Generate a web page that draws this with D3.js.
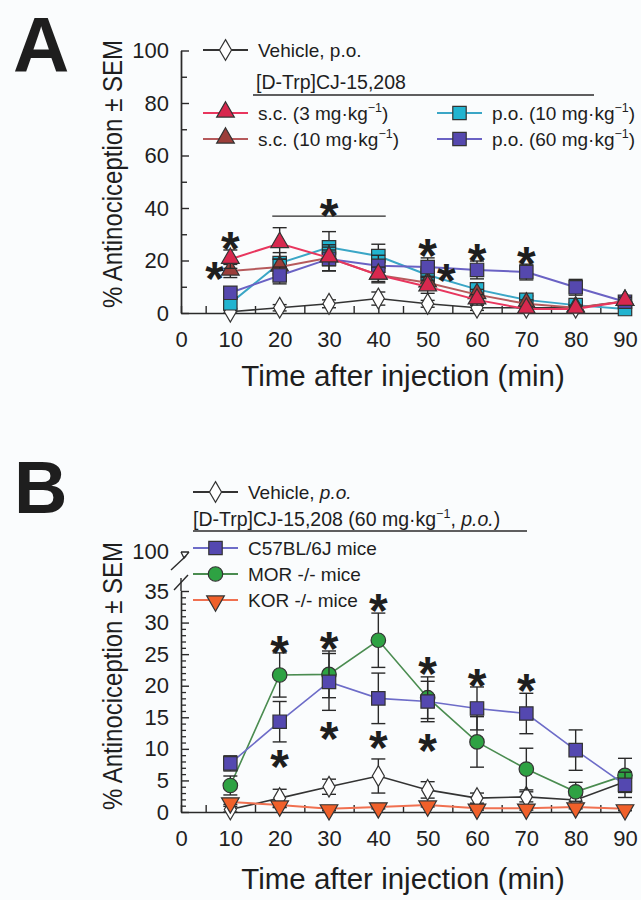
<!DOCTYPE html>
<html><head><meta charset="utf-8">
<script src="https://cdn.jsdelivr.net/npm/d3@7"></script>
<style>
html,body{margin:0;padding:0;background:#fafcfd;}
text{font-family:"Liberation Sans",Arial,Helvetica,sans-serif;fill:#1e1e1e;}
</style></head><body>
<script>
// ---------------- DATA ----------------
const times = [10, 20, 30, 40, 50, 60, 70, 80, 90];
const xTicks = [0, 10, 20, 30, 40, 50, 60, 70, 80, 90];
const yTicksA = [0, 20, 40, 60, 80, 100];
const yTicksB = [0, 5, 10, 15, 20, 25, 30, 35];

// Panel A
const vehicleA     = [0.5, 2, 3.5, 5.5, 3.5, 2, 2, 2, 4.5];
const vehicleAErr  = [0.5, 1.2, 1.5, 2.5, 1.3, 1, 1, 0.8, 1.5];
const sc3A         = [20.5, 26.5, 21, 14.5, 10, 5, 1.5, 1.5, 4.5];
const sc3AErr      = [3.5, 6, 5, 3, 2.5, 2, 1, 1, 1.5];
const sc10A        = [16, 17.5, 21, 14.5, 11.5, 7, 3.5, 2, 4.5];
const sc10AErr     = [2.5, 3, 3, 2.5, 2, 2, 1.5, 1, 1.5];
const po10A        = [3.7, 19, 25, 21.7, 14.5, 9, 5, 3, 1.5];
const po10AErr     = [2, 4, 6, 4.5, 3, 2.5, 1.5, 1, 1];
const po60A        = [7.7, 14.3, 20.6, 18, 17.5, 16.4, 15.6, 9.8, 4.3];
const po60AErr     = [1.5, 3.2, 4.5, 4, 3.5, 3.4, 3, 3, 2];
const starsA = [[10, 28.6], [6.8, 17], [30, 41.2], [50, 26], [53.8, 16.4], [60, 24], [70, 22.9]];
const bracketA = [18.5, 41.5, 36.9];

// Panel B
const vehicleB     = [0.4, 2.2, 4, 5.7, 3.5, 2.2, 2.4, 1.9, 4.8];
const vehicleBErr  = [0.5, 1.4, 1.2, 2.7, 1.3, 0.8, 0.8, 0.7, 1.5];
const c57B         = [7.7, 14.3, 20.6, 18, 17.5, 16.4, 15.6, 9.8, 4.3];
const c57BErr      = [1.2, 3.2, 4.5, 4, 3.2, 3.4, 3.2, 3.2, 2];
const morB         = [4.2, 21.7, 21.8, 27.2, 18.1, 11.1, 6.8, 3.2, 5.8];
const morBErr      = [1.5, 3.5, 3.7, 4.3, 3.3, 4, 3.3, 1.5, 2.7];
const korB         = [1.6, 1.1, 0.5, 0.8, 1.1, 0.6, 0.6, 0.8, 0.5];
const korBErr      = [0.4, 0.4, 0.3, 0.3, 0.3, 0.3, 0.3, 0.3, 0.3];
const starsB = [[20, 26.9], [20, 8.8], [30, 27.5], [30, 13.3], [40, 33.5], [40, 11.9],
                [50, 23.6], [50, 11.4], [60, 21.7], [70, 20.9]];

// ---------------- DRAW ----------------
const W = 641, H = 900;
const svg = d3.select("body").append("svg").attr("width", W).attr("height", H);
const ink = "#2a2a2a";
const FONT = "Liberation Sans, Arial, sans-serif";

const x = d3.scaleLinear().domain([0, 90]).range([181, 625]);
const yA = d3.scaleLinear().domain([0, 100]).range([313, 50.5]);
const yB = d3.scaleLinear().domain([0, 35]).range([812, 591]);

function marker(g, type, cx, cy, fill) {
  let s;
  if (type === "diamond") s = d3.symbol(d3.symbolDiamond, 125);
  else if (type === "square") s = d3.symbol(d3.symbolSquare, 180);
  else if (type === "circle") s = d3.symbol(d3.symbolCircle, 165);
  else s = d3.symbol(d3.symbolTriangle, 135);
  const rot = type === "tridown" ? 180 : 0;
  const dy = type === "triangle" ? -1 : (type === "tridown" ? 1 : 0);
  g.append("path").attr("d", s())
    .attr("transform", `translate(${cx},${cy + dy}) rotate(${rot})`)
    .attr("fill", fill).attr("stroke", "#333").attr("stroke-width", 1.2);
}

function series(g, y, vals, errs, type, line, fill, lw) {
  const gg = g.append("g");
  gg.append("path").datum(vals)
    .attr("d", d3.line().x((d, i) => x(times[i])).y(d => y(d)))
    .attr("fill", "none").attr("stroke", line).attr("stroke-width", lw);
  vals.forEach((v, i) => {
    const cx = x(times[i]), e = errs[i];
    const y1 = y(v + e), y0 = y(Math.max(v - e, 0));
    gg.append("line").attr("x1", cx).attr("x2", cx).attr("y1", y1).attr("y2", y0)
      .attr("stroke", ink).attr("stroke-width", 1.4);
    [y1, y0].forEach(yy => gg.append("line").attr("x1", cx - 7).attr("x2", cx + 7)
      .attr("y1", yy).attr("y2", yy).attr("stroke", ink).attr("stroke-width", 1.4));
  });
  vals.forEach((v, i) => marker(gg, type, x(times[i]), y(v), fill));
}

function star(g, cx, cy) {
  const fs = 48;
  g.append("text").attr("x", cx).attr("y", cy + 0.56 * fs)
    .attr("text-anchor", "middle").attr("font-size", fs).attr("font-weight", "bold").text("*");
}

function xAxis(g, baseY) {
  const minor = d3.range(0, 91, 5);
  g.append("g").attr("transform", `translate(0,${baseY})`)
    .call(d3.axisBottom(x).tickValues(minor).tickSizeInner(-7).tickSizeOuter(0).tickFormat(""))
    .call(a => a.selectAll("line,path").attr("stroke", ink).attr("stroke-width", 1.4));
  g.append("g").attr("transform", `translate(0,${baseY})`)
    .call(d3.axisBottom(x).tickValues(xTicks).tickSize(0).tickPadding(18))
    .call(a => { a.select(".domain").remove();
      a.selectAll("text").attr("font-size", 22).attr("fill", "#1e1e1e").attr("font-family", FONT); });
}

function legendRow(g, lx, ly, type, line, fill, label) {
  g.append("line").attr("x1", lx).attr("x2", lx + 45).attr("y1", ly).attr("y2", ly)
    .attr("stroke", line).attr("stroke-width", 2);
  marker(g, type, lx + 22.5, ly, fill);
  const t = g.append("text").attr("x", lx + 55).attr("y", ly + 7).attr("font-size", 19);
  label(t);
}
function doseLabel(prefix, dose) {
  return t => {
    t.append("tspan").text(`${prefix} (${dose} mg·kg`);
    t.append("tspan").attr("font-size", 12.5).attr("dy", -8).text("−1");
    t.append("tspan").attr("dy", 8).text(")");
  };
}
function yTitle(g, cx, cy) {
  g.append("text").attr("transform", `translate(${cx},${cy}) rotate(-90)`)
    .attr("text-anchor", "middle").attr("font-size", 27)
    .attr("textLength", 268).attr("lengthAdjust", "spacingAndGlyphs")
    .text("% Antinociception ± SEM");
}

// ===== Panel A =====
const gA = svg.append("g");
gA.append("text").attr("x", 13).attr("y", 72).attr("font-size", 78).attr("font-weight", "bold").text("A");

gA.append("g").attr("transform", "translate(181,0)")
  .call(d3.axisLeft(yA).tickValues(d3.range(10, 100, 20)).tickSizeInner(-6).tickSizeOuter(0).tickFormat(""))
  .call(a => a.selectAll("line,path").attr("stroke", ink).attr("stroke-width", 1.4));
gA.append("g").attr("transform", "translate(181,0)")
  .call(d3.axisLeft(yA).tickValues(yTicksA).tickSizeInner(-8).tickSizeOuter(0).tickPadding(12))
  .call(a => { a.selectAll("line,path").attr("stroke", ink).attr("stroke-width", 1.4);
    a.selectAll("text").attr("font-size", 22).attr("fill", "#1e1e1e").attr("font-family", FONT); });
xAxis(gA, 313);

series(gA, yA, vehicleA, vehicleAErr, "diamond", "#333", "#fff", 1.6);
series(gA, yA, po10A, po10AErr, "square", "#3aa6c6", "#22b4d0", 2);
series(gA, yA, sc10A, sc10AErr, "triangle", "#b65a5c", "#9c3e3a", 2);
series(gA, yA, po60A, po60AErr, "square", "#6a62c4", "#5548ae", 2);
series(gA, yA, sc3A, sc3AErr, "triangle", "#e8365e", "#d8284e", 2);

gA.append("line").attr("x1", x(bracketA[0])).attr("x2", x(bracketA[1]))
  .attr("y1", yA(bracketA[2])).attr("y2", yA(bracketA[2])).attr("stroke", ink).attr("stroke-width", 1.4);
starsA.forEach(s => star(gA, x(s[0]), yA(s[1])));

legendRow(gA, 203, 50, "diamond", "#333", "#fff", t => t.text("Vehicle, p.o."));
gA.append("text").attr("x", 256).attr("y", 89).attr("font-size", 19.5).text("[D-Trp]CJ-15,208");
gA.append("line").attr("x1", 253).attr("x2", 594).attr("y1", 95).attr("y2", 95)
  .attr("stroke", ink).attr("stroke-width", 1.4);
legendRow(gA, 203, 113, "triangle", "#e8365e", "#d8284e", doseLabel("s.c.", 3));
legendRow(gA, 203, 139, "triangle", "#b65a5c", "#9c3e3a", doseLabel("s.c.", 10));
legendRow(gA, 437, 113, "square", "#3aa6c6", "#22b4d0", doseLabel("p.o.", 10));
legendRow(gA, 437, 139, "square", "#6a62c4", "#5548ae", doseLabel("p.o.", 60));

yTitle(gA, 122, 174);
gA.append("text").attr("x", 403).attr("y", 386).attr("text-anchor", "middle")
  .attr("font-size", 29.5).text("Time after injection (min)");

// ===== Panel B =====
const gB = svg.append("g");
gB.append("text").attr("x", 14).attr("y", 513).attr("font-size", 74).attr("font-weight", "bold").text("B");

gB.append("g").attr("transform", "translate(181,0)")
  .call(d3.axisLeft(yB).tickValues(d3.range(0, 36, 1).filter(v => v % 5)).tickSizeInner(-5).tickSizeOuter(0).tickFormat(""))
  .call(a => a.selectAll("line,path").attr("stroke", ink).attr("stroke-width", 1.3));
gB.append("g").attr("transform", "translate(181,0)")
  .call(d3.axisLeft(yB).tickValues(yTicksB).tickSizeInner(-8).tickSizeOuter(0).tickPadding(12))
  .call(a => { a.selectAll("line,path").attr("stroke", ink).attr("stroke-width", 1.4);
    a.selectAll("text").attr("font-size", 22).attr("fill", "#1e1e1e").attr("font-family", FONT); });
const y100 = 552;
gB.append("line").attr("x1", 181).attr("x2", 181).attr("y1", yB(35)).attr("y2", 578).attr("stroke", ink).attr("stroke-width", 1.4);
gB.append("line").attr("x1", 174).attr("x2", 188).attr("y1", 590).attr("y2", 575).attr("stroke", ink).attr("stroke-width", 1.4);
gB.append("path").attr("d", `M181,${y100}H189M181,${y100}L184,${y100 + 6}L189,${y100}`).attr("fill", "none").attr("stroke", ink).attr("stroke-width", 1.3);
gB.append("line").attr("x1", 171).attr("x2", 186).attr("y1", 570).attr("y2", 556).attr("stroke", ink).attr("stroke-width", 1.4);
gB.append("text").attr("x", 169).attr("y", y100 + 7).attr("text-anchor", "end").attr("font-size", 22).text("100");
xAxis(gB, 812);

series(gB, yB, vehicleB, vehicleBErr, "diamond", "#333", "#fff", 1.6);
series(gB, yB, korB, korBErr, "tridown", "#f07050", "#f0602a", 2);
series(gB, yB, morB, morBErr, "circle", "#4a8c50", "#2ea243", 1.6);
series(gB, yB, c57B, c57BErr, "square", "#6d6cc8", "#5448b0", 1.6);
starsB.forEach(s => star(gB, x(s[0]), yB(s[1])));

legendRow(gB, 193, 492, "diamond", "#333", "#fff", t => {
  t.append("tspan").text("Vehicle, ");
  t.append("tspan").attr("font-style", "italic").text("p.o.");
});
const tB = gB.append("text").attr("x", 193).attr("y", 526).attr("font-size", 19.5);
tB.append("tspan").text("[D-Trp]CJ-15,208 (60 mg·kg");
tB.append("tspan").attr("font-size", 12.5).attr("dy", -8).text("−1");
tB.append("tspan").attr("dy", 8).text(", ");
tB.append("tspan").attr("font-style", "italic").text("p.o.");
tB.append("tspan").text(")");
gB.append("line").attr("x1", 193).attr("x2", 527).attr("y1", 531).attr("y2", 531)
  .attr("stroke", ink).attr("stroke-width", 1.4);
legendRow(gB, 193, 548, "square", "#6d6cc8", "#5448b0", t => t.text("C57BL/6J mice"));
legendRow(gB, 193, 574, "circle", "#4a8c50", "#2ea243", t => t.text("MOR -/- mice"));
legendRow(gB, 193, 600, "tridown", "#f07050", "#f0602a", t => t.text("KOR -/- mice"));

yTitle(gB, 122, 676);
gB.append("text").attr("x", 403).attr("y", 889).attr("text-anchor", "middle")
  .attr("font-size", 29.5).text("Time after injection (min)");
</script>
</body></html>
